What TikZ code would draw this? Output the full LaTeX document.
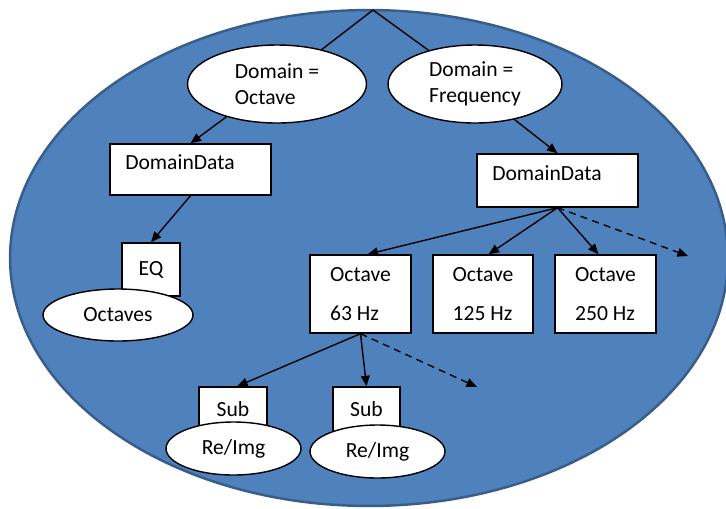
\documentclass[tikz,border=0pt]{standalone}
\usepackage{fontspec}
\setmainfont{Carlito}
\usepackage{xcolor}
\definecolor{fondo}{RGB}{79, 129, 189}
\definecolor{borde}{RGB}{56, 93, 138}
\usetikzlibrary{shapes.geometric, arrows.meta}

\begin{document}
\begin{tikzpicture}[
  x=0.02cm, y=-0.02cm,
  every node/.style={font=\fontsize{12.3}{14.7}\selectfont},
  blob/.style={fill=fondo, draw=borde, line width=1.4pt},
  oval/.style={ellipse, draw=black, fill=white, line width=0.8pt, inner sep=0pt, align=left},
  caja/.style={rectangle, draw=black, fill=white, line width=0.8pt, inner sep=0pt, align=left},
  link/.style={-{Triangle[length=6pt, width=5pt]}, line width=0.8pt},
  mas/.style={link, dashed, dash pattern=on 4pt off 3pt}
]
  \useasboundingbox (0,0) rectangle (726,508);
  \fill[blob] (369,258) ellipse [x radius=7.18cm, y radius=4.96cm];

  \coordinate (raiz) at (373,10);
  \node[oval, minimum width=3.58cm, minimum height=1.56cm] (octdom) at (277,84) {Domain =\\Octave};
  \node[oval, minimum width=3.48cm, minimum height=1.56cm] (freqdom) at (475,84) {Domain =\\Frequency};

  \node[caja, minimum width=3.22cm, minimum height=1.02cm, text depth=9pt] (datoA) at (190.5,169.5) {DomainData\hspace*{12pt}};
  \node[caja, minimum width=1.16cm, minimum height=1.06cm] (eq) at (151,269.5) {EQ};
  \node[oval, minimum width=3.0cm, minimum height=1.04cm, align=center] (octavas) at (118,315) {Octaves};

  \node[caja, minimum width=3.22cm, minimum height=1.06cm, text depth=9pt] (datoB) at (557.5,180.5) {DomainData\hspace*{12pt}};
  \node[caja, minimum width=2.02cm, minimum height=1.56cm] (oct63) at (360.5,294) {Octave\\[7pt]63 Hz};
  \node[caja, minimum width=2.0cm, minimum height=1.56cm] (oct125) at (483,294) {Octave\\[7pt]125 Hz};
  \node[caja, minimum width=2.02cm, minimum height=1.56cm] (oct250) at (605.5,294) {Octave\\[7pt]250 Hz};
  \coordinate (sigueB) at (688,256);

  \node[caja, minimum width=1.36cm, minimum height=0.9cm] (subA) at (233,409.5) {Sub};
  \node[oval, minimum width=2.7cm, minimum height=1.06cm, align=center] (reimA) at (233.5,448.5) {Re/Img};
  \node[caja, minimum width=1.34cm, minimum height=0.9cm] (subB) at (366.5,409.5) {Sub};
  \node[oval, minimum width=2.7cm, minimum height=1.06cm, align=center] (reimB) at (377.5,451.5) {Re/Img};
  \coordinate (sigue63) at (477,387);

  \draw[line width=0.8pt] (raiz) -- (octdom);
  \draw[line width=0.8pt] (raiz) -- (freqdom);
  \draw[link] (octdom.213) -- (datoA.north);
  \draw[link] (datoA.south) -- (eq.north);
  \draw[link] (freqdom.318) -- (datoB.north);
  \draw[link] (datoB.south) -- (oct63.80);
  \draw[link] (datoB.south) -- (oct125.82);
  \draw[link] (datoB.south) -- (oct250.100);
  \draw[mas] (datoB.south) -- (sigueB);
  \draw[link] (oct63.south) -- (subA.80);
  \draw[link] (oct63.south) -- (subB.north);
  \draw[mas] (oct63.south) -- (sigue63);
\end{tikzpicture}
\end{document}
